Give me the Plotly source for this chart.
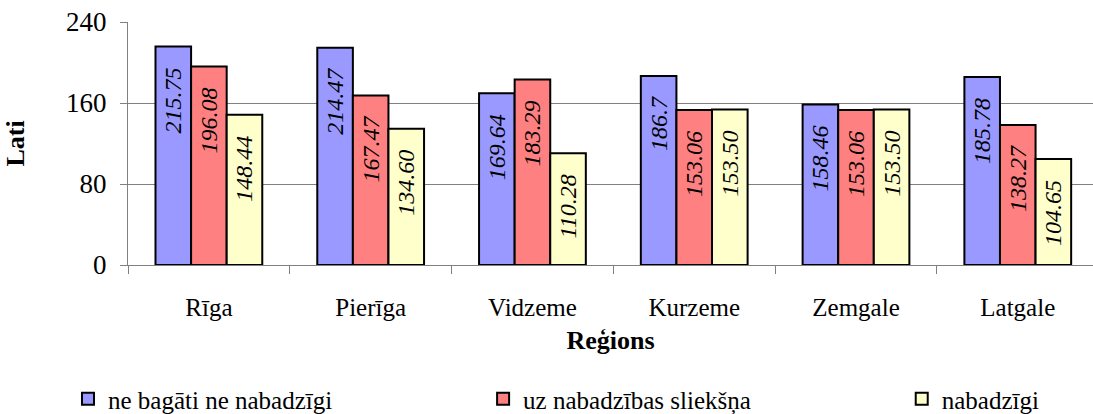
import plotly.graph_objects as go

regions = ["Rīga", "Pierīga", "Vidzeme", "Kurzeme", "Zemgale", "Latgale"]
series_names = ["ne bagāti ne nabadzīgi", "uz nabadzības sliekšņa", "nabadzīgi"]
vals_neither = [215.75, 214.47, 169.64, 186.70, 158.46, 185.78]
vals_threshold = [196.08, 167.47, 183.29, 153.06, 153.06, 138.27]
vals_poor = [148.44, 134.60, 110.28, 153.50, 153.50, 104.65]
labels_neither = ["215.75", "214.47", "169.64", "186.7", "158.46", "185.78"]
labels_threshold = ["196.08", "167.47", "183.29", "153.06", "153.06", "138.27"]
labels_poor = ["148.44", "134.60", "110.28", "153.50", "153.50", "104.65"]
y_ticks = [0, 80, 160, 240]

colors = ["#9999FF", "#FF8080", "#FFFFCC"]
FONT = "Liberation Serif"
PAD = "\u00a0\u00a0\u00a0"

fig = go.Figure()
series = [(vals_neither, labels_neither), (vals_threshold, labels_threshold), (vals_poor, labels_poor)]
legend_ids = ["legend", "legend2", "legend3"]
for i, ((vals, labs), name) in enumerate(zip(series, series_names)):
    fig.add_trace(go.Bar(
        x=regions, y=vals, name=name,
        text=[l + PAD for l in labs],
        textposition="inside", insidetextanchor="end", textangle=-90,
        textfont=dict(family=FONT, size=24, color="black", style="italic"),
        marker=dict(color=colors[i], line=dict(color="black", width=2)),
        legend=legend_ids[i],
        cliponaxis=False,
    ))

legend_common = dict(
    orientation="h", xref="container", yref="container",
    yanchor="middle", xanchor="left", y=0.036,
    font=dict(family=FONT, size=25, color="black"),
    bgcolor="rgba(0,0,0,0)", itemwidth=30,
)
fig.update_layout(
    width=1093, height=414,
    margin=dict(l=128, r=0, t=22, b=149),
    paper_bgcolor="white", plot_bgcolor="white",
    font=dict(family=FONT, size=25, color="black"),
    barmode="group", bargap=0.34, bargroupgap=0,
    showlegend=True,
    legend=dict(x=0.0622, **legend_common),
    legend2=dict(x=0.442, **legend_common),
    legend3=dict(x=0.825, **legend_common),
    xaxis=dict(
        range=[-0.5, 5.465], tickson="boundaries",
        ticks="outside", ticklen=8, tickcolor="#808080", tickwidth=1,
        showline=True, linecolor="#808080", linewidth=1,
        showgrid=False, ticklabelstandoff=20,
        tickfont=dict(family=FONT, size=25, color="black"),
        title=dict(text="<b>Reģions</b>", font=dict(family=FONT, size=26, color="black"), standoff=10),
    ),
    yaxis=dict(
        range=[0, 240], tickvals=y_ticks,
        ticks="outside", ticklen=7, tickcolor="#808080", tickwidth=1,
        showline=True, linecolor="#808080", linewidth=1,
        showgrid=True, gridcolor="#808080", gridwidth=1,
        zeroline=False, ticklabelstandoff=8,
        tickfont=dict(family=FONT, size=27, color="black"),
        title=dict(text="<b>Lati</b>", font=dict(family=FONT, size=26, color="black"), standoff=33),
    ),
)

fig.write_html(
    "out.html",
    config={"displayModeBar": False},
    post_script="document.body.style.margin='0';document.body.style.overflow='hidden';",
)
